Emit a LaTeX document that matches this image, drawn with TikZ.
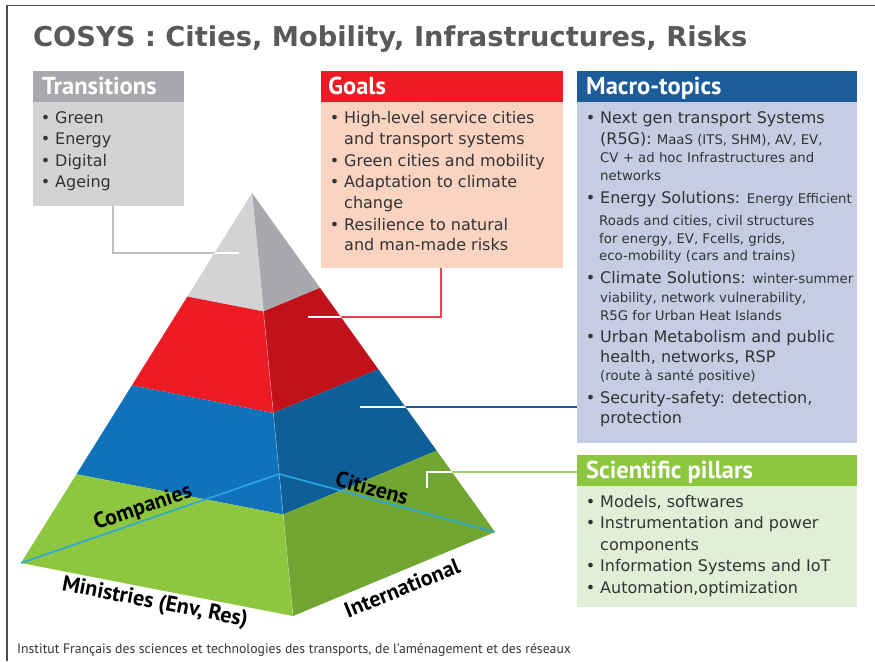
\documentclass[tikz,border=0pt]{standalone}
\usepackage{fontspec}
\setmainfont{PT Sans}
\newfontfamily\titlefont{DejaVu Sans}
\newfontfamily\bodyfont{DejaVu Sans}
\usetikzlibrary{calc}

\definecolor{framec}{HTML}{4D4D4F}
\definecolor{titlec}{HTML}{58595B}
\definecolor{txtc}{HTML}{333335}
\definecolor{greyhd}{HTML}{A7A9AC}
\definecolor{greybd}{HTML}{D1D3D4}
\definecolor{redhd}{HTML}{ED1C24}
\definecolor{redbd}{HTML}{FBD3C1}
\definecolor{bluehd}{HTML}{1B5C99}
\definecolor{bluebd}{HTML}{C6CDE3}
\definecolor{greenhd}{HTML}{8DC63F}
\definecolor{greenbd}{HTML}{E2EFD7}
\definecolor{pgreyL}{HTML}{D1D3D4}
\definecolor{pgreyR}{HTML}{A7A9AC}
\definecolor{predL}{HTML}{ED1C24}
\definecolor{predR}{HTML}{C1121C}
\definecolor{pblueL}{HTML}{1072BA}
\definecolor{pblueR}{HTML}{0E5E98}
\definecolor{pgreenL}{HTML}{8DC63F}
\definecolor{pgreenR}{HTML}{72A632}
\definecolor{basel}{HTML}{29A8E0}
\definecolor{cgrey}{HTML}{BCBEC0}
\definecolor{cred}{HTML}{E5474D}
\definecolor{cblue}{HTML}{1F5C99}
\definecolor{cgreen}{HTML}{A8D36C}

\newcommand\bl{\llap{\textbullet\hspace{5pt}}}
\newcommand\sm{\fontsize{13.3}{16}\selectfont}

\begin{document}
\begin{tikzpicture}[x=1pt,y=-1pt,
  txt/.style={anchor=base west, inner sep=0, text=txtc, font=\bodyfont\fontsize{16}{20}\selectfont},
  hdr/.style={anchor=base west, inner sep=0, text=white, font=\fontsize{24.5}{28}\selectfont\bfseries},
  barbox/.style={anchor=north west, inner sep=0, draw=none},
  plabel/.style={inner sep=0, text=black, font=\fontsize{22}{26}\selectfont\bfseries},
  conn/.style={line width=1.5pt},
]
\useasboundingbox (0,0) rectangle (875,661);

% outer frame (top and left)
\draw[framec, line width=1.5pt] (875,5.5) -- (7,5.5) -- (7,661);

% title
\node[anchor=base west, inner sep=0, text=titlec, font=\titlefont\fontsize{27.3}{30}\selectfont\bfseries] (title) at (33,47) {COSYS : Cities, Mobility, Infrastructures, Risks};

% ---------- pyramid ----------
\coordinate (A)  at (252,193);
\coordinate (BL) at (21,563);
\coordinate (BF) at (293,616);
\coordinate (BR) at (495,532);
\coordinate (BB) at (279,474);

\foreach \ta/\tb/\cl/\cr in {0/0.28/pgreyL/pgreyR, 0.28/0.52/predL/predR, 0.52/0.76/pblueL/pblueR, 0.76/1/pgreenL/pgreenR}{
  \fill[\cl] ($(A)!\ta!(BL)$) -- ($(A)!\tb!(BL)$) -- ($(A)!\tb!(BF)$) -- ($(A)!\ta!(BF)$) -- cycle;
  \fill[\cr] ($(A)!\ta!(BF)$) -- ($(A)!\tb!(BF)$) -- ($(A)!\tb!(BR)$) -- ($(A)!\ta!(BR)$) -- cycle;
}
\draw[white, opacity=0.35, line width=0.6pt] (A) -- (BF);

% base diagonals
\draw[basel, line width=1.6pt] (BL) -- (BB) -- (BR);

% ---------- boxes ----------
\node[barbox, fill=greyhd, minimum width=151pt, minimum height=31pt] (th) at (33,71) {};
\node[barbox, fill=greybd, minimum width=151pt, minimum height=104pt] (tb) at (33,102) {};
\node[barbox, fill=redhd, minimum width=242pt, minimum height=31pt] (gh) at (321,71) {};
\node[barbox, fill=redbd, minimum width=242pt, minimum height=166pt] (gb) at (321,102) {};
\node[barbox, fill=bluehd, minimum width=280pt, minimum height=31pt] (mh) at (577,71) {};
\node[barbox, fill=bluebd, minimum width=280pt, minimum height=341pt] (mb) at (577,102) {};
\node[barbox, fill=greenhd, minimum width=280pt, minimum height=31pt] (ph) at (577,455) {};
\node[barbox, fill=greenbd, minimum width=280pt, minimum height=121pt] (pb) at (577,486) {};

% connector end points
\coordinate (tx) at (113,0);
\coordinate (tend) at (239,253);
\coordinate (gx) at (441,0);
\coordinate (gend) at (308,317);
\coordinate (mend) at (360,407);
\coordinate (pend) at (427,488);
\coordinate (py) at (0,472);

\draw[cgrey, conn] (tb.south -| tx) |- (tend);
\draw[cred, conn] (gb.south -| gx) |- (gend);
\draw[cblue, conn] (mend) -- (mend -| mb.west);
\draw[cgreen, conn] (pend) -- (pend |- py) -- (py -| ph.west);
\begin{scope}
  \clip (A) -- (BL) -- (BF) -- (BR) -- cycle;
  \draw[white, conn] (tb.south -| tx) |- (tend);
  \draw[white, conn] (gb.south -| gx) |- (gend);
  \draw[white, conn] (mend) -- (mend -| mb.west);
  \draw[white, conn] (pend) -- (pend |- py) -- (py -| ph.west);
\end{scope}

% headers
\node[hdr] (thl) at (42,94) {Transitions};
\node[hdr] (ghl) at (328,94) {Goals};
\node[hdr] (mhl) at (586,94) {Macro-topics};
\node[hdr] (phl) at (586,478) {Scientific pillars};

% Transitions list
\foreach \s [count=\i] in {Green,Energy,Digital,Ageing}
  \node[txt] (t\i) at (55,{123+21.5*(\i-1)}) {\bl\s};

% Goals list
\node[txt] (g1) at (344,123) {\bl High-level service cities};
\node[txt] (g2) at (344,144) {and transport systems};
\node[txt] (g3) at (344,166) {\bl Green cities and mobility};
\node[txt] (g4) at (344,187) {\bl Adaptation to climate};
\node[txt] (g5) at (344,208) {change};
\node[txt] (g6) at (344,230) {\bl Resilience to natural};
\node[txt] (g7) at (344,250) {and man-made risks};

% Macro-topics list
\node[txt] (m1)  at (600,123) {\bl Next gen transport Systems};
\node[txt] (m2)  at (600,144) {(R5G): {\sm MaaS (ITS, SHM), AV, EV,}};
\node[txt] (m3)  at (600,162) {\sm CV + ad hoc Infrastructures and};
\node[txt] (m4)  at (600,180) {\sm networks};
\node[txt] (m5)  at (600,203) {\bl Energy Solutions: {\sm Energy Efficient}};
\node[txt] (m6)  at (599,225) {\sm Roads and cities, civil structures};
\node[txt] (m7)  at (599,243) {\sm for energy, EV, Fcells, grids,};
\node[txt] (m8)  at (599,260) {\sm eco-mobility (cars and trains)};
\node[txt] (m9)  at (600,283) {\bl Climate Solutions: {\sm winter-summer}};
\node[txt] (m10) at (600,302) {\sm viability, network vulnerability,};
\node[txt] (m11) at (600,320) {\sm R5G for Urban Heat Islands};
\node[txt] (m12) at (600,342) {\bl Urban Metabolism and public};
\node[txt] (m13) at (600,362) {health, networks, RSP};
\node[txt] (m14) at (600,380) {\sm (route à santé positive)};
\node[txt] (m15) at (600,403) {\bl Security-safety: detection,};
\node[txt] (m16) at (600,423) {protection};

% Scientific pillars list
\node[txt] (p1) at (600,507) {\bl Models, softwares};
\node[txt] (p2) at (600,528) {\bl Instrumentation and power};
\node[txt] (p3) at (600,550) {components};
\node[txt] (p4) at (600,571) {\bl Information Systems and IoT};
\node[txt] (p5) at (600,593) {\bl Automation,optimization};

% pyramid labels
\node[plabel, rotate=19]  (comp) at (143,508) {Companies};
\node[plabel, rotate=-15] (citz) at (372,488) {Citizens};
\node[plabel, rotate=-11] (mini) at (155,603) {Ministries (Env, Res)};
\node[plabel, rotate=22]  (intl) at (402,588) {International};

% footer
\node[anchor=base west, inner sep=0, text=txtc, font=\fontsize{13.7}{15}\selectfont] (foot) at (17,653) {Institut Français des sciences et technologies des transports, de l’aménagement et des réseaux};
\end{tikzpicture}
\end{document}
